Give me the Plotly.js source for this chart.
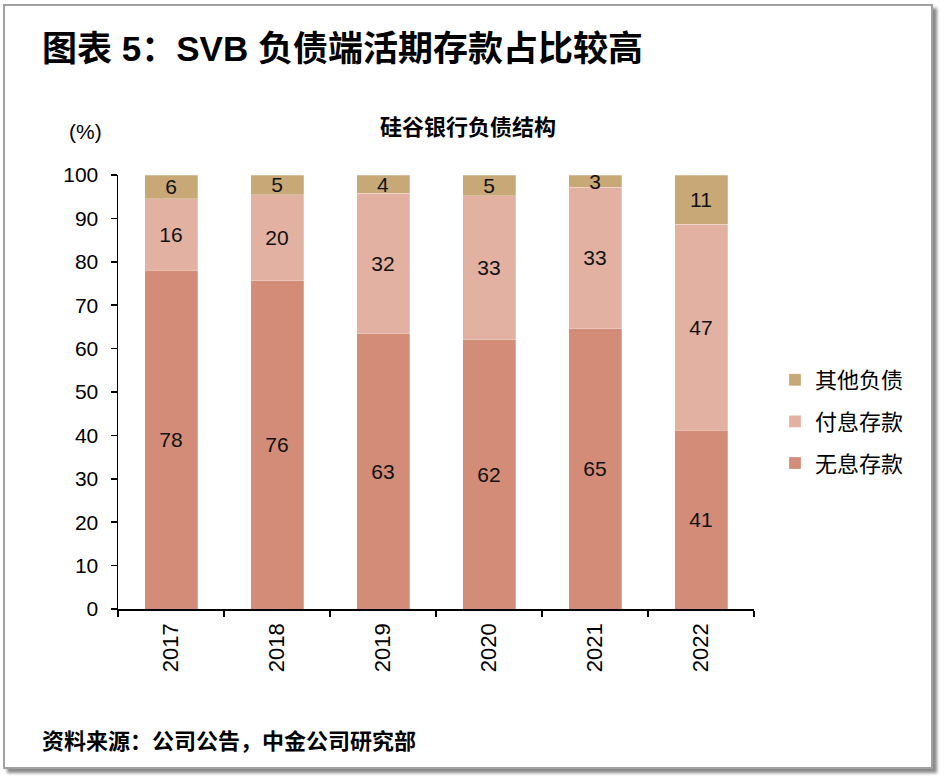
<!DOCTYPE html>
<html>
<head>
<meta charset="utf-8">
<script src="https://cdn.plot.ly/plotly-3.0.1.min.js"></script>
<style>
  html, body { margin: 0; padding: 0; background: #ffffff; }
  #wrap { position: relative; width: 946px; height: 782px; overflow: hidden; }
  #chart { position: absolute; left: 0; top: 0; width: 946px; height: 782px; }
  #frame { position: absolute; left: 3px; top: 4px; width: 926px; height: 761px;
           border: 2px solid #a0a0a0; box-shadow: 4px 4px 3px #8a8a8a; pointer-events: none; }
</style>
</head>
<body>
<div id="wrap">
  <div id="chart"></div>
  <div id="frame"></div>
</div>
<script>
// ---- data ----
const years = ['2017', '2018', '2019', '2020', '2021', '2022'];
const nonInterestDeposits = [78.1, 75.6, 63.4, 62.0, 64.6, 41.2]; // 无息存款
const interestDeposits    = [16.4, 19.8, 32.4, 33.2, 32.6, 47.4]; // 付息存款
const otherLiabilities    = [5.5, 4.6, 4.2, 4.8, 2.8, 11.4];      // 其他负债
const seriesNames = ['无息存款', '付息存款', '其他负债'];
const yTicks = [0, 10, 20, 30, 40, 50, 60, 70, 80, 90, 100];

// ---- style ----
const FONT = "Arial, 'Liberation Sans', 'Noto Sans CJK SC', sans-serif";
const colors = ['#D38C77', '#E3B1A2', '#C9A878'];
const ranks = [3, 2, 1];

// plot area in pixels
const L = 118, R = 754, T = 175, B = 609;
const px = x => (x - L) / (R - L);
const py = y => (B - y) / (B - T);

function makeTrace(vals, i) {
  return {
    type: 'bar',
    x: years,
    y: vals,
    name: seriesNames[i],
    legendgroup: 'g' + i,
    legendrank: ranks[i],
    marker: { color: colors[i], line: { color: 'rgba(255,255,255,0.5)', width: 0.5 } },
    texttemplate: '%{y:.0f}',
    textposition: 'inside',
    insidetextanchor: 'middle',
    textangle: 0,
    constraintext: 'none',
    textfont: { family: FONT, size: 21, color: '#111111' },
    hoverinfo: 'skip',
    cliponaxis: false
  };
}

const data = [
  makeTrace(nonInterestDeposits, 0),
  makeTrace(interestDeposits, 1),
  makeTrace(otherLiabilities, 2)
];

const layout = {
  width: 946,
  height: 782,
  margin: { l: L, r: 946 - R, t: T, b: 782 - B, pad: 0 },
  paper_bgcolor: '#ffffff',
  plot_bgcolor: '#ffffff',
  barmode: 'stack',
  bargap: 0.5,
  font: { family: FONT, size: 21, color: '#000000' },
  showlegend: true,
  legend: {
    x: px(775), y: py(359), xanchor: 'left', yanchor: 'top',
    traceorder: 'grouped',
    tracegroupgap: 10,
    font: { family: FONT, size: 22, color: '#000000' },
    bgcolor: 'rgba(0,0,0,0)'
  },
  xaxis: {
    type: 'category',
    tickangle: -90,
    ticks: 'outside',
    tickson: 'boundaries',
    ticklen: 6,
    tickwidth: 1.5,
    tickcolor: '#000000',
    showline: true,
    linecolor: '#000000',
    linewidth: 1.5,
    showgrid: false,
    zeroline: false,
    ticklabelstandoff: 4,
    tickfont: { family: FONT, size: 22, color: '#000000' },
    fixedrange: true
  },
  yaxis: {
    range: [0, 100],
    tickvals: yTicks,
    ticktext: yTicks.map(String),
    ticks: 'outside',
    ticklen: 6,
    tickwidth: 1.5,
    tickcolor: '#000000',
    showline: true,
    linecolor: '#000000',
    linewidth: 1.5,
    showgrid: false,
    zeroline: false,
    ticklabelstandoff: 8,
    tickfont: { family: FONT, size: 21, color: '#000000' },
    fixedrange: true
  },
  annotations: [
    { text: '<b>图表 5：SVB 负债端活期存款占比较高</b>', xref: 'paper', yref: 'paper',
      x: px(40), y: py(48), xanchor: 'left', yanchor: 'middle', showarrow: false,
      font: { family: FONT, size: 35, color: '#000000' } },
    { text: '<b>硅谷银行负债结构</b>', xref: 'paper', yref: 'paper',
      x: px(468), y: py(128), xanchor: 'center', yanchor: 'middle', showarrow: false,
      font: { family: FONT, size: 22, color: '#000000' } },
    { text: '(%)', xref: 'paper', yref: 'paper',
      x: px(85), y: py(131), xanchor: 'center', yanchor: 'middle', showarrow: false,
      font: { family: FONT, size: 21, color: '#000000' } },
    { text: '<b>资料来源：公司公告，中金公司研究部</b>', xref: 'paper', yref: 'paper',
      x: px(40), y: py(741), xanchor: 'left', yanchor: 'middle', showarrow: false,
      font: { family: FONT, size: 22, color: '#000000' } }
  ]
};

Plotly.newPlot('chart', data, layout, { displayModeBar: false, staticPlot: true });
</script>
</body>
</html>
